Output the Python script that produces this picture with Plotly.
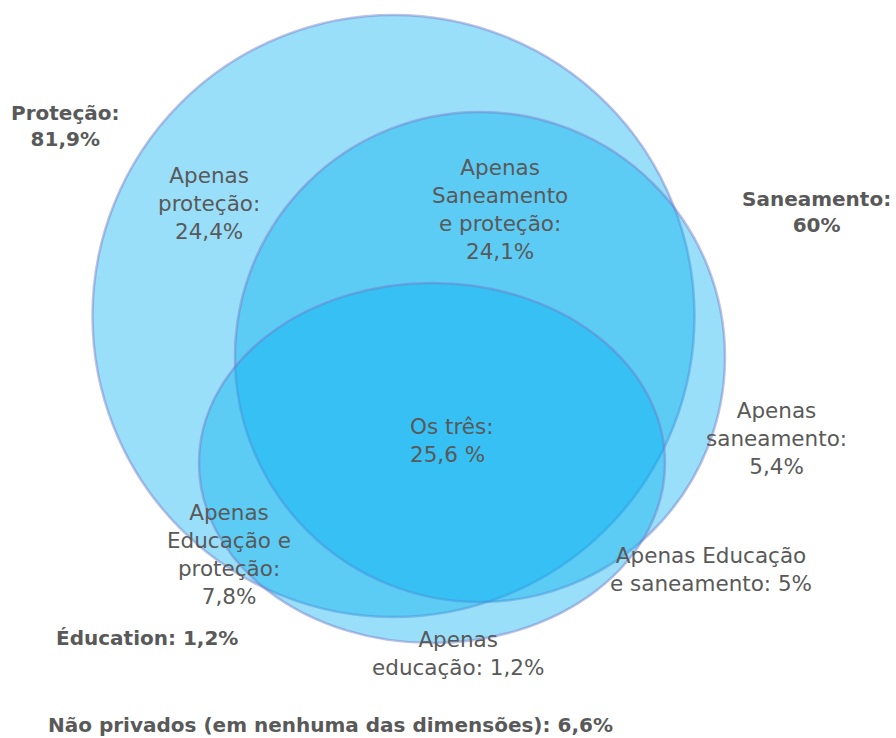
import plotly.graph_objects as go

# ---- data ----
set_names = ["Proteção", "Saneamento", "Éducation"]
set_values = [81.9, 60.0, 1.2]
set_value_text = ["81,9%", "60%", "1,2%"]

region_text = [
    "Apenas<br>proteção:",
    "Apenas<br>Saneamento<br>e proteção:",
    "Os três:",
    "Apenas<br>saneamento:",
    "Apenas<br>Educação e<br>proteção:",
    "Apenas Educação<br>e saneamento:",
    "Apenas<br>educação:",
]
region_values = [24.4, 24.1, 25.6, 5.4, 7.8, 5.0, 1.2]
region_value_text = ["24,4%", "24,1%", "25,6 %", "5,4%", "7,8%", "5%", "1,2%"]
region_sep = ["<br>", "<br>", "<br>", "<br>", "<br>", " ", " "]

none_label = "Não privados (em nenhuma das dimensões)"
none_value_text = "6,6%"

# ---- layout geometry (page-pixel-like data coords) ----
W, H = 896, 738
ellipses = [  # x0, x1, y0, y1
    (92.5, 694.5, 15, 617),   # Proteção
    (235, 725, 112, 602),     # Saneamento
    (199, 665, 283, 643),     # Educação
]
fill = "rgba(0,176,240,0.40)"
edge = "rgba(115,120,200,0.45)"
txt_col = "#595959"
FONT = "DejaVu Sans"

set_pos = [(65, 126), (816, 212), (147, 638)]
set_sep = ["<br>", "<br>", " "]
region_pos = [
    (209, 203, "center"),
    (500, 209, "center"),
    (408, 440, "left"),
    (776, 438, "center"),
    (229, 554, "center"),
    (711, 569, "center"),
    (458, 653, "center"),
]

fig = go.Figure()

for (x0, x1, y0, y1) in ellipses:
    fig.add_shape(type="circle", xref="x", yref="y", x0=x0, x1=x1, y0=y0, y1=y1,
                  fillcolor=fill, line=dict(color=edge, width=2.5), layer="above")

for txt, val, sep, (x, y, al) in zip(region_text, region_value_text, region_sep, region_pos):
    fig.add_annotation(x=x, y=y, xref="x", yref="y", text=txt + sep + val,
                       showarrow=False, align=al,
                       xanchor="left" if al == "left" else "center", yanchor="middle",
                       font=dict(family=FONT, size=21.5, color=txt_col))

for name, val, sep, (x, y) in zip(set_names, set_value_text, set_sep, set_pos):
    fig.add_annotation(x=x, y=y, xref="x", yref="y", text="<b>" + name + ":" + sep + val + "</b>",
                       showarrow=False, align="center", xanchor="center", yanchor="middle",
                       font=dict(family=FONT, size=20, color=txt_col))

fig.add_annotation(x=330, y=725, xref="x", yref="y",
                   text="<b>" + none_label + ": " + none_value_text + "</b>",
                   showarrow=False, xanchor="center", yanchor="middle",
                   font=dict(family=FONT, size=20, color=txt_col))

fig.update_xaxes(range=[0, W], visible=False, fixedrange=True)
fig.update_yaxes(range=[H, 0], visible=False, fixedrange=True)
fig.update_layout(width=W, height=H, margin=dict(l=0, r=0, t=0, b=0),
                  paper_bgcolor="white", plot_bgcolor="white", showlegend=False)

fig.write_html("out.html", config={"displayModeBar": False},
               post_script="document.body.style.margin='0px';document.body.style.overflow='hidden';")
